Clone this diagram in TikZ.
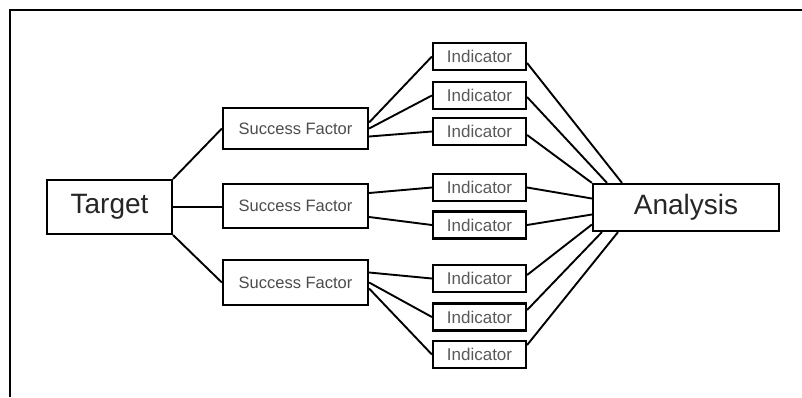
\documentclass[tikz,border=0pt]{standalone}
\usepackage{fontspec}
\setmainfont{Liberation Sans}
\begin{document}
\begin{tikzpicture}[x=1pt,y=-1pt,
  box/.style={draw=black,line width=2.2pt,fill=white,inner sep=0pt,rectangle},
  big/.style={box,font=\fontsize{28}{30}\selectfont,text=black!85},
  sf/.style={box,minimum width=145pt,font=\fontsize{16.5}{18}\selectfont,text=black!70},
  ind/.style={box,minimum width=93pt,minimum height=27pt,font=\fontsize{17}{18}\selectfont,text=black!65},
  link/.style={line width=1.9pt,black}]
\useasboundingbox (0,0) rectangle (802,397);
\draw[line width=2.5pt] (10,397) -- (10,10) -- (802,10);

\node[big,minimum width=125pt,minimum height=54pt] (target) at (109.5,207) {Target};
\node[big,minimum width=186pt,minimum height=47pt] (an) at (686,207.5) {Analysis};

\node[sf,minimum height=41pt] (sf1) at (295.5,128.5) {Success Factor};
\node[sf,minimum height=44pt] (sf2) at (295.5,206) {Success Factor};
\node[sf,minimum height=45pt] (sf3) at (295.5,282.5) {Success Factor};

\node[ind] (i1) at (479.5,56.5) {Indicator};
\node[ind] (i2) at (479.5,95.5) {Indicator};
\node[ind] (i3) at (479.5,131.5) {Indicator};
\node[ind] (i4) at (479.5,187.5) {Indicator};
\node[ind] (i5) at (479.5,225) {Indicator};
\node[ind] (i6) at (479.5,278.5) {Indicator};
\node[ind] (i7) at (479.5,317) {Indicator};
\node[ind] (i8) at (479.5,354.5) {Indicator};

\draw[link] (target.north east) -- (sf1.west);
\draw[link] (target.east) -- (target.east -| sf2.west);
\draw[link] (target.south east) -- (sf3.west);

\draw[link] ([yshift=6pt]sf1.east) -- (i1.west);
\draw[link] (sf1.east) -- (i2.west);
\draw[link] ([yshift=-8pt]sf1.east) -- (i3.west);
\draw[link] ([yshift=13pt]sf2.east) -- (i4.west);
\draw[link] ([yshift=-11pt]sf2.east) -- (i5.west);
\draw[link] ([yshift=10pt]sf3.east) -- (i6.west);
\draw[link] (sf3.east) -- (i7.west);
\draw[link] ([yshift=-6pt]sf3.east) -- (i8.west);

\draw[link] ([yshift=-6.5pt]i1.east) -- ([xshift=-64pt]an.north);
\draw[link] ([yshift=-1.5pt]i2.east) -- ([xshift=-79pt]an.north);
\draw[link] ([yshift=-3.5pt]i3.east) -- (an.north west);
\draw[link] (i4.east) -- ([yshift=9pt]an.west);
\draw[link] (i5.east) -- ([yshift=-7pt]an.west);
\draw[link] ([yshift=3.5pt]i6.east) -- ([yshift=-17pt]an.west);
\draw[link] ([yshift=7pt]i7.east) -- ([xshift=10pt]an.south west);
\draw[link] ([yshift=9.5pt]i8.east) -- ([xshift=-68pt]an.south);
\end{tikzpicture}
\end{document}
